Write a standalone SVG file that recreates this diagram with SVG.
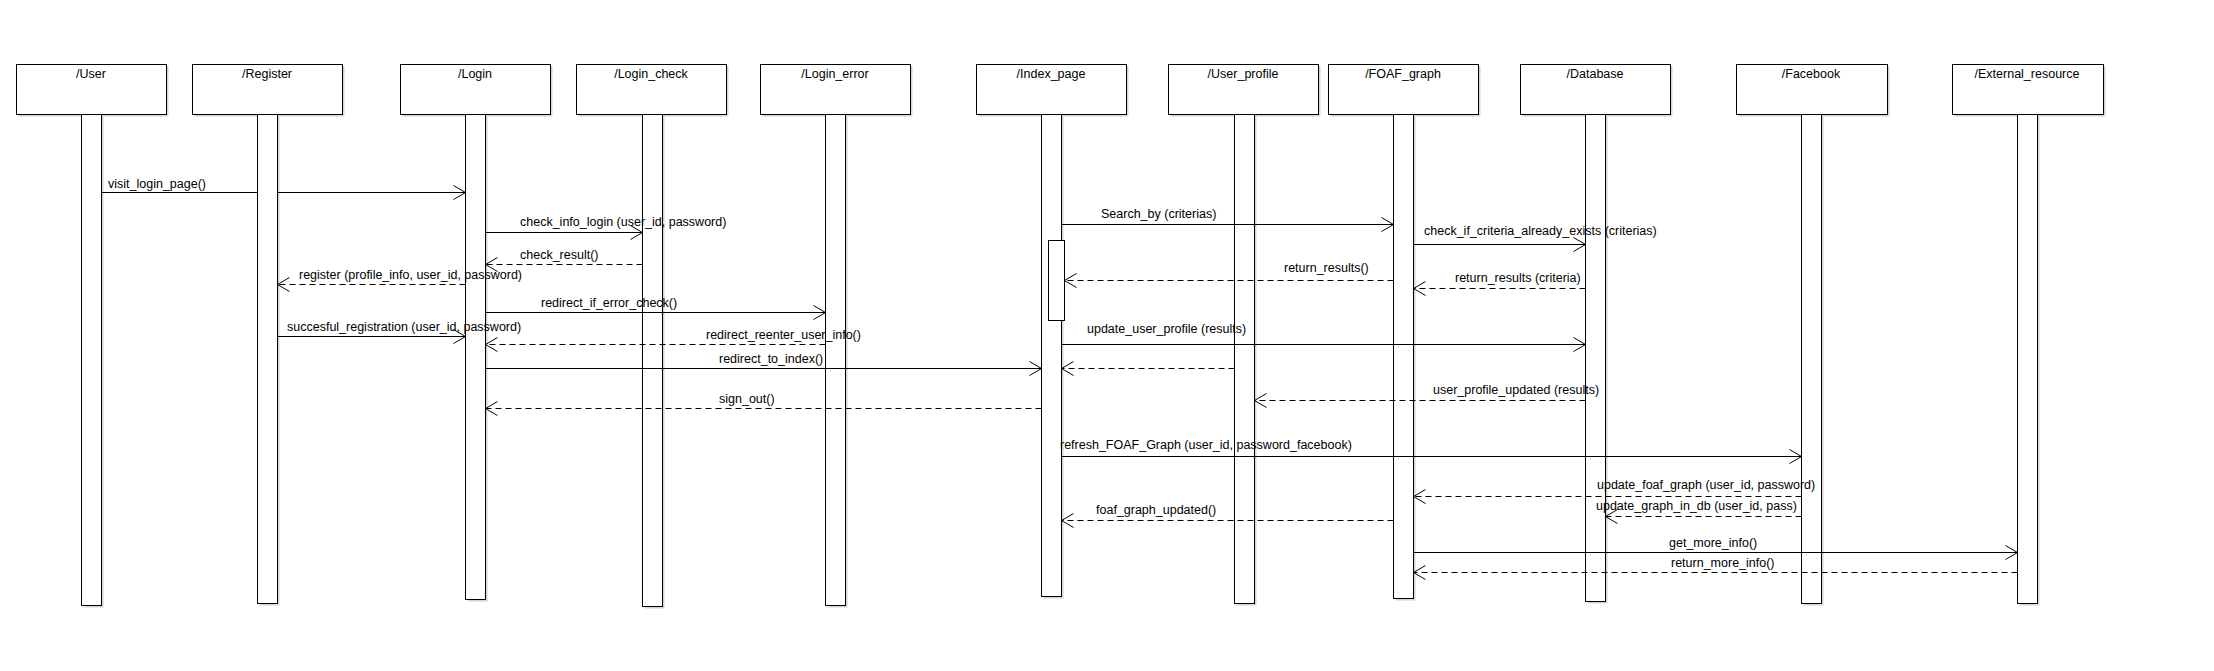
<svg xmlns="http://www.w3.org/2000/svg" width="2214" height="671" viewBox="0 0 2214 671">
<style>
  .box { fill: #ffffff; stroke: #000000; stroke-width: 1; }
  .shadow { fill: #d4d4d4; stroke: none; }
  .bar { fill: #ffffff; stroke: #000000; stroke-width: 1; }
  .title { font-family: "Liberation Sans", Arial, sans-serif; font-size: 12.5px; fill: #000000; text-anchor: middle; }
  .lbl { font-family: "Liberation Sans", Arial, sans-serif; font-size: 12.5px; fill: #000000; }
  .msg { fill: none; stroke: #000000; stroke-width: 1; marker-end: url(#open); }
  .ret { fill: none; stroke: #000000; stroke-width: 1; stroke-dasharray: 6 4; marker-end: url(#open); }
</style>
<defs>
  <marker id="open" markerUnits="userSpaceOnUse" markerWidth="16" markerHeight="16" viewBox="-13 -8 15 16" refX="0" refY="0" orient="auto" overflow="visible">
    <path d="M-12,-7 L0,0 L-12,7" fill="none" stroke="#000000" stroke-width="1" stroke-dasharray="none"/>
  </marker>
</defs>
<rect width="2214" height="671" fill="#ffffff"/>

<g id="lifeline-user">
  <rect class="shadow" x="18.5" y="66.5" width="150" height="50"/>
  <rect class="box" x="16.5" y="64.5" width="150" height="50"/>
  <text class="title" x="91" y="78">/User</text>
  <rect class="shadow" x="83.5" y="116.5" width="20" height="491"/>
  <rect class="bar" x="81.5" y="114.5" width="20" height="491"/>
</g>
<g id="lifeline-register">
  <rect class="shadow" x="194.5" y="66.5" width="150" height="50"/>
  <rect class="box" x="192.5" y="64.5" width="150" height="50"/>
  <text class="title" x="267" y="78">/Register</text>
  <rect class="shadow" x="259.5" y="116.5" width="20" height="489"/>
  <rect class="bar" x="257.5" y="114.5" width="20" height="489"/>
</g>
<g id="lifeline-login">
  <rect class="shadow" x="402.5" y="66.5" width="150" height="50"/>
  <rect class="box" x="400.5" y="64.5" width="150" height="50"/>
  <text class="title" x="475" y="78">/Login</text>
  <rect class="shadow" x="467.5" y="116.5" width="20" height="485"/>
  <rect class="bar" x="465.5" y="114.5" width="20" height="485"/>
</g>
<g id="lifeline-login-check">
  <rect class="shadow" x="578.5" y="66.5" width="150" height="50"/>
  <rect class="box" x="576.5" y="64.5" width="150" height="50"/>
  <text class="title" x="651" y="78">/Login_check</text>
  <rect class="shadow" x="644.5" y="116.5" width="20" height="492"/>
  <rect class="bar" x="642.5" y="114.5" width="20" height="492"/>
</g>
<g id="lifeline-login-error">
  <rect class="shadow" x="762.5" y="66.5" width="150" height="50"/>
  <rect class="box" x="760.5" y="64.5" width="150" height="50"/>
  <text class="title" x="835" y="78">/Login_error</text>
  <rect class="shadow" x="827.5" y="116.5" width="20" height="491"/>
  <rect class="bar" x="825.5" y="114.5" width="20" height="491"/>
</g>
<g id="lifeline-index-page">
  <rect class="shadow" x="978.5" y="66.5" width="150" height="50"/>
  <rect class="box" x="976.5" y="64.5" width="150" height="50"/>
  <text class="title" x="1051" y="78">/Index_page</text>
  <rect class="shadow" x="1043.5" y="116.5" width="20" height="482"/>
  <rect class="bar" x="1041.5" y="114.5" width="20" height="482"/>
  <rect class="bar" x="1048.5" y="240.5" width="16" height="80"/>
</g>
<g id="lifeline-user-profile">
  <rect class="shadow" x="1170.5" y="66.5" width="150" height="50"/>
  <rect class="box" x="1168.5" y="64.5" width="150" height="50"/>
  <text class="title" x="1243" y="78">/User_profile</text>
  <rect class="shadow" x="1236.5" y="116.5" width="20" height="489"/>
  <rect class="bar" x="1234.5" y="114.5" width="20" height="489"/>
</g>
<g id="lifeline-foaf-graph">
  <rect class="shadow" x="1330.5" y="66.5" width="150" height="50"/>
  <rect class="box" x="1328.5" y="64.5" width="150" height="50"/>
  <text class="title" x="1403" y="78">/FOAF_graph</text>
  <rect class="shadow" x="1395.5" y="116.5" width="20" height="484"/>
  <rect class="bar" x="1393.5" y="114.5" width="20" height="484"/>
</g>
<g id="lifeline-database">
  <rect class="shadow" x="1522.5" y="66.5" width="150" height="50"/>
  <rect class="box" x="1520.5" y="64.5" width="150" height="50"/>
  <text class="title" x="1595" y="78">/Database</text>
  <rect class="shadow" x="1587.5" y="116.5" width="20" height="487"/>
  <rect class="bar" x="1585.5" y="114.5" width="20" height="487"/>
</g>
<g id="lifeline-facebook">
  <rect class="shadow" x="1738.5" y="66.5" width="151" height="50"/>
  <rect class="box" x="1736.5" y="64.5" width="151" height="50"/>
  <text class="title" x="1811" y="78">/Facebook</text>
  <rect class="shadow" x="1803.5" y="116.5" width="20" height="489"/>
  <rect class="bar" x="1801.5" y="114.5" width="20" height="489"/>
</g>
<g id="lifeline-external-resource">
  <rect class="shadow" x="1954.5" y="66.5" width="151" height="50"/>
  <rect class="box" x="1952.5" y="64.5" width="151" height="50"/>
  <text class="title" x="2027" y="78">/External_resource</text>
  <rect class="shadow" x="2019.5" y="116.5" width="20" height="489"/>
  <rect class="bar" x="2017.5" y="114.5" width="20" height="489"/>
</g>

<g id="connectors">
  <path class="msg" d="M101.5,192.5 H257.5 M277.5,192.5 H465.5"/>
  <text class="lbl" x="108" y="188">visit_login_page()</text>

  <path class="msg" d="M485.5,232.5 H642.5"/>
  <text class="lbl" x="520" y="226">check_info_login (user_id, password)</text>

  <path class="ret" d="M642.5,264.5 H485.5"/>
  <text class="lbl" x="520" y="259">check_result()</text>

  <path class="ret" d="M465.5,284.5 H277.5"/>
  <text class="lbl" x="299" y="279">register (profile_info, user_id, password)</text>

  <path class="msg" d="M485.5,312.5 H825.5"/>
  <text class="lbl" x="541" y="307">redirect_if_error_check()</text>

  <path class="msg" d="M277.5,336.5 H465.5"/>
  <text class="lbl" x="287" y="331">succesful_registration (user_id, password)</text>

  <path class="ret" d="M825.5,344.5 H485.5"/>
  <text class="lbl" x="706" y="339">redirect_reenter_user_info()</text>

  <path class="msg" d="M485.5,368.5 H1041.5"/>
  <text class="lbl" x="719" y="363">redirect_to_index()</text>

  <path class="ret" d="M1041.5,408.5 H485.5"/>
  <text class="lbl" x="719" y="403">sign_out()</text>

  <path class="msg" d="M1061.5,224.5 H1393.5"/>
  <text class="lbl" x="1101" y="218">Search_by (criterias)</text>

  <path class="msg" d="M1413.5,244.5 H1585.5"/>
  <text class="lbl" x="1424" y="235">check_if_criteria_already_exists (criterias)</text>

  <path class="ret" d="M1393.5,280.5 H1064.5"/>
  <text class="lbl" x="1284" y="272">return_results()</text>

  <path class="ret" d="M1585.5,288.5 H1413.5"/>
  <text class="lbl" x="1455" y="282">return_results (criteria)</text>

  <path class="msg" d="M1061.5,344.5 H1585.5"/>
  <text class="lbl" x="1087" y="333">update_user_profile (results)</text>

  <path class="ret" d="M1234.5,368.5 H1061.5"/>

  <path class="ret" d="M1585.5,400.5 H1254.5"/>
  <text class="lbl" x="1433" y="394">user_profile_updated (results)</text>

  <path class="msg" d="M1061.5,456.5 H1801.5"/>
  <text class="lbl" x="1060" y="449">refresh_FOAF_Graph (user_id, password_facebook)</text>

  <path class="ret" d="M1801.5,496.5 H1413.5"/>
  <text class="lbl" x="1597" y="489">update_foaf_graph (user_id, password)</text>

  <path class="ret" d="M1801.5,516.5 H1605.5"/>
  <text class="lbl" x="1596" y="510">update_graph_in_db (user_id, pass)</text>

  <path class="ret" d="M1393.5,520.5 H1061.5"/>
  <text class="lbl" x="1096" y="514">foaf_graph_updated()</text>

  <path class="msg" d="M1413.5,552.5 H2017.5"/>
  <text class="lbl" x="1669" y="547">get_more_info()</text>

  <path class="ret" d="M2017.5,572.5 H1413.5"/>
  <text class="lbl" x="1671" y="567">return_more_info()</text>
</g>
</svg>
